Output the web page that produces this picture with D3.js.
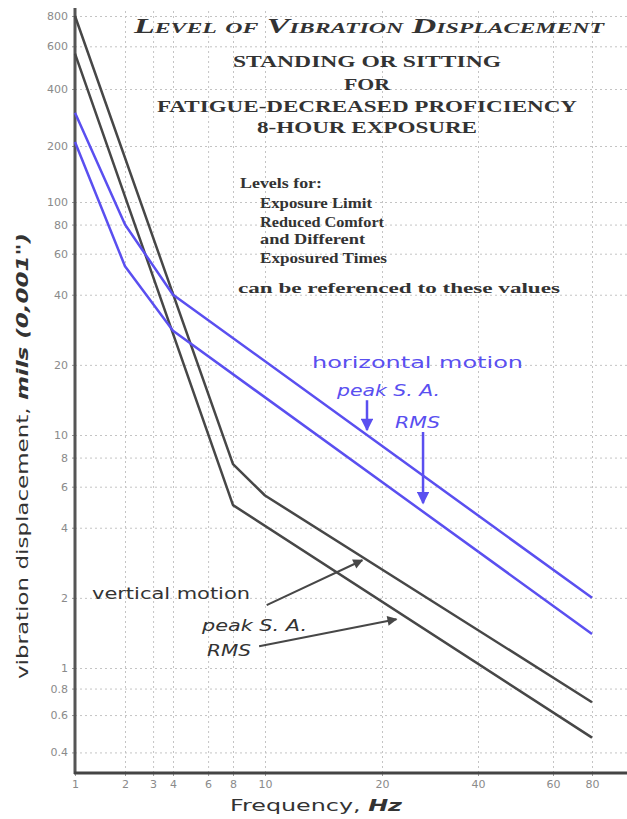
<!DOCTYPE html>
<html>
<head>
<meta charset="utf-8">
<script src="https://cdn.jsdelivr.net/npm/d3@7"></script>
<style>
  body { margin: 0; background: #fff; }
  .tick text { fill: #8a8a8a; font-family: "DejaVu Sans", sans-serif; font-size: 11px; }
  .grid line { stroke: #c4c4c4; stroke-dasharray: 2,3; }
  .grid path { display: none; }
</style>
</head>
<body>
<script>
// tick values
var xTicks = [1, 2, 3, 4, 6, 8, 10, 20, 40, 60, 80];
var yTicks = [0.4, 0.6, 0.8, 1, 2, 4, 6, 8, 10, 20, 40, 60, 80, 100, 200, 400, 600, 800];

// curve vertices [Hz, mils]
var vertPeak = [[1, 800], [8, 7.5], [10, 5.5], [80, 0.69]];
var vertRms = [[1, 560], [8, 5], [80, 0.47]];
var horizPeak = [[1, 300], [2, 80], [4, 40], [80, 2]];
var horizRms = [[1, 210], [2, 53], [4, 28], [80, 1.4]];

// annotation arrows [from, to] in [Hz, mils]
var vertArrows = [[[10.1, 1.86], [17.8, 2.9]], [[9.6, 1.24], [22.2, 1.62]]];
var horizArrows = [[[18.3, 14.1], [18.3, 10.5]], [[26.9, 10.3], [26.9, 5.1]]];

var w = 627, h = 819;
var black = "#474747", blue = "#5a4ff0";

// the printed axes are hand drawn, so the log scales are calibrated piecewise
var x = d3.scaleLog()
  .domain([1, 2, 4, 8, 10, 20, 40, 60, 80])
  .range([75, 125, 173, 233, 265, 382, 478, 553, 592]);
var y = d3.scaleLog()
  .domain([0.32, 1, 10, 100, 200, 400, 800])
  .range([773, 668, 435, 202, 146, 89, 16]);

var svg = d3.select("body").append("svg")
  .attr("width", w)
  .attr("height", h)
  .style("background-color", "#fff");

// grid
svg.append("g")
  .attr("class", "grid")
  .attr("transform", "translate(75,0)")
  .call(d3.axisLeft(y).tickValues(yTicks).tickSize(-(w - 75)).tickFormat(""));
svg.append("g")
  .attr("class", "grid")
  .attr("transform", "translate(0,773)")
  .call(d3.axisBottom(x).tickValues(xTicks).tickSize(-(773 - 8)).tickFormat(""));

// axes
var yAxis = svg.append("g")
  .attr("transform", "translate(75,0)")
  .call(d3.axisLeft(y).tickValues(yTicks).tickSize(3).tickPadding(4).tickFormat(d3.format("~g")));
yAxis.select(".domain").remove();
yAxis.selectAll(".tick line").attr("stroke", "#999");

var xAxis = svg.append("g")
  .attr("transform", "translate(0,773)")
  .call(d3.axisBottom(x).tickValues(xTicks).tickSize(3).tickPadding(4).tickFormat(d3.format("~g")));
xAxis.select(".domain").remove();
xAxis.selectAll(".tick line").attr("stroke", "#999");

svg.append("line")
  .attr("x1", 75).attr("x2", 75)
  .attr("y1", 8).attr("y2", 774)
  .attr("stroke", "#555").attr("stroke-width", 3);
svg.append("line")
  .attr("x1", 74).attr("x2", w)
  .attr("y1", 773).attr("y2", 773)
  .attr("stroke", "#444").attr("stroke-width", 3);

// curves
var line = d3.line()
  .x(function(d) { return x(d[0]); })
  .y(function(d) { return y(d[1]); });

[[vertPeak, black], [vertRms, black], [horizPeak, blue], [horizRms, blue]].forEach(function(c) {
  svg.append("path")
    .datum(c[0])
    .attr("d", line)
    .attr("fill", "none")
    .attr("stroke", c[1])
    .attr("stroke-width", 2.5)
    .attr("stroke-linejoin", "round");
});

// arrow heads
var defs = svg.append("defs");
[["headBlack", black], ["headBlue", blue]].forEach(function(m) {
  defs.append("marker")
    .attr("id", m[0])
    .attr("viewBox", "0 0 10 10")
    .attr("refX", 9).attr("refY", 5)
    .attr("markerWidth", 6).attr("markerHeight", 5)
    .attr("markerUnits", "strokeWidth")
    .attr("orient", "auto")
    .append("path")
    .attr("d", "M0,0 L10,5 L0,10 Z")
    .attr("fill", m[1]);
});

vertArrows.forEach(function(a) {
  svg.append("line")
    .attr("x1", x(a[0][0])).attr("y1", y(a[0][1]))
    .attr("x2", x(a[1][0])).attr("y2", y(a[1][1]))
    .attr("stroke", black).attr("stroke-width", 2)
    .attr("marker-end", "url(#headBlack)");
});
horizArrows.forEach(function(a) {
  svg.append("line")
    .attr("x1", x(a[0][0])).attr("y1", y(a[0][1]))
    .attr("x2", x(a[1][0])).attr("y2", y(a[1][1]))
    .attr("stroke", blue).attr("stroke-width", 2.5)
    .attr("marker-end", "url(#headBlue)");
});

// titles
var serif = "'Liberation Serif', 'DejaVu Serif', serif";
svg.append("text")
  .attr("x", 369).attr("y", 33)
  .attr("text-anchor", "middle")
  .attr("textLength", 470).attr("lengthAdjust", "spacingAndGlyphs")
  .style("font-family", serif).style("font-size", "20px")
  .style("font-weight", "bold").style("font-style", "italic")
  .style("font-variant", "small-caps").attr("fill", "#333")
  .text("Level of Vibration Displacement");

var sub = [["STANDING OR SITTING", 67, 268], ["FOR", 90, 46], ["FATIGUE-DECREASED PROFICIENCY", 112, 420], ["8-HOUR EXPOSURE", 133, 220]];
sub.forEach(function(s) {
  svg.append("text")
    .attr("x", 367).attr("y", s[1])
    .attr("text-anchor", "middle")
    .attr("textLength", s[2]).attr("lengthAdjust", "spacingAndGlyphs")
    .style("font-family", serif).style("font-size", "16px")
    .style("font-weight", "bold").attr("fill", "#333")
    .text(s[0]);
});

var notes = [["Levels for:", 240, 188, 82], ["Exposure Limit", 260, 208, 112], ["Reduced Comfort", 260, 227, 124],
  ["and Different", 260, 244, 105], ["Exposured Times", 260, 263, 127], ["can be referenced to these values", 238, 293, 322]];
notes.forEach(function(s) {
  svg.append("text")
    .attr("x", s[1]).attr("y", s[2])
    .attr("textLength", s[3]).attr("lengthAdjust", "spacingAndGlyphs")
    .style("font-family", serif).style("font-size", "14px")
    .style("font-weight", "bold").attr("fill", "#333")
    .text(s[0]);
});

// curve labels
var sans = "'DejaVu Sans', 'Liberation Sans', sans-serif";
var labels = [
  ["horizontal motion", 312, 368, 211, "normal", blue],
  ["peak S. A.", 337, 396, 103, "italic", blue],
  ["RMS", 395, 428, 45, "italic", blue],
  ["vertical motion", 92, 599, 158, "normal", "#333"],
  ["peak S. A.", 202, 631, 105, "italic", "#333"],
  ["RMS", 207, 656, 44, "italic", "#333"]
];
labels.forEach(function(s) {
  svg.append("text")
    .attr("x", s[1]).attr("y", s[2])
    .attr("textLength", s[3]).attr("lengthAdjust", "spacingAndGlyphs")
    .style("font-family", sans).style("font-size", "16px")
    .style("font-style", s[4]).attr("fill", s[5])
    .text(s[0]);
});

// axis titles
var yt = svg.append("text")
  .attr("transform", "translate(28,456) rotate(-90)")
  .attr("text-anchor", "middle")
  .attr("textLength", 446).attr("lengthAdjust", "spacingAndGlyphs")
  .style("font-family", sans).style("font-size", "16px").attr("fill", "#333");
yt.append("tspan").text("vibration displacement, ");
yt.append("tspan").style("font-style", "italic").style("font-weight", "bold").text("mils (0,001\")");

var xt = svg.append("text")
  .attr("x", 316).attr("y", 811)
  .attr("text-anchor", "middle")
  .attr("textLength", 172).attr("lengthAdjust", "spacingAndGlyphs")
  .style("font-family", sans).style("font-size", "16px").attr("fill", "#333");
xt.append("tspan").text("Frequency, ");
xt.append("tspan").style("font-style", "italic").style("font-weight", "bold").text("Hz");
</script>
</body>
</html>
